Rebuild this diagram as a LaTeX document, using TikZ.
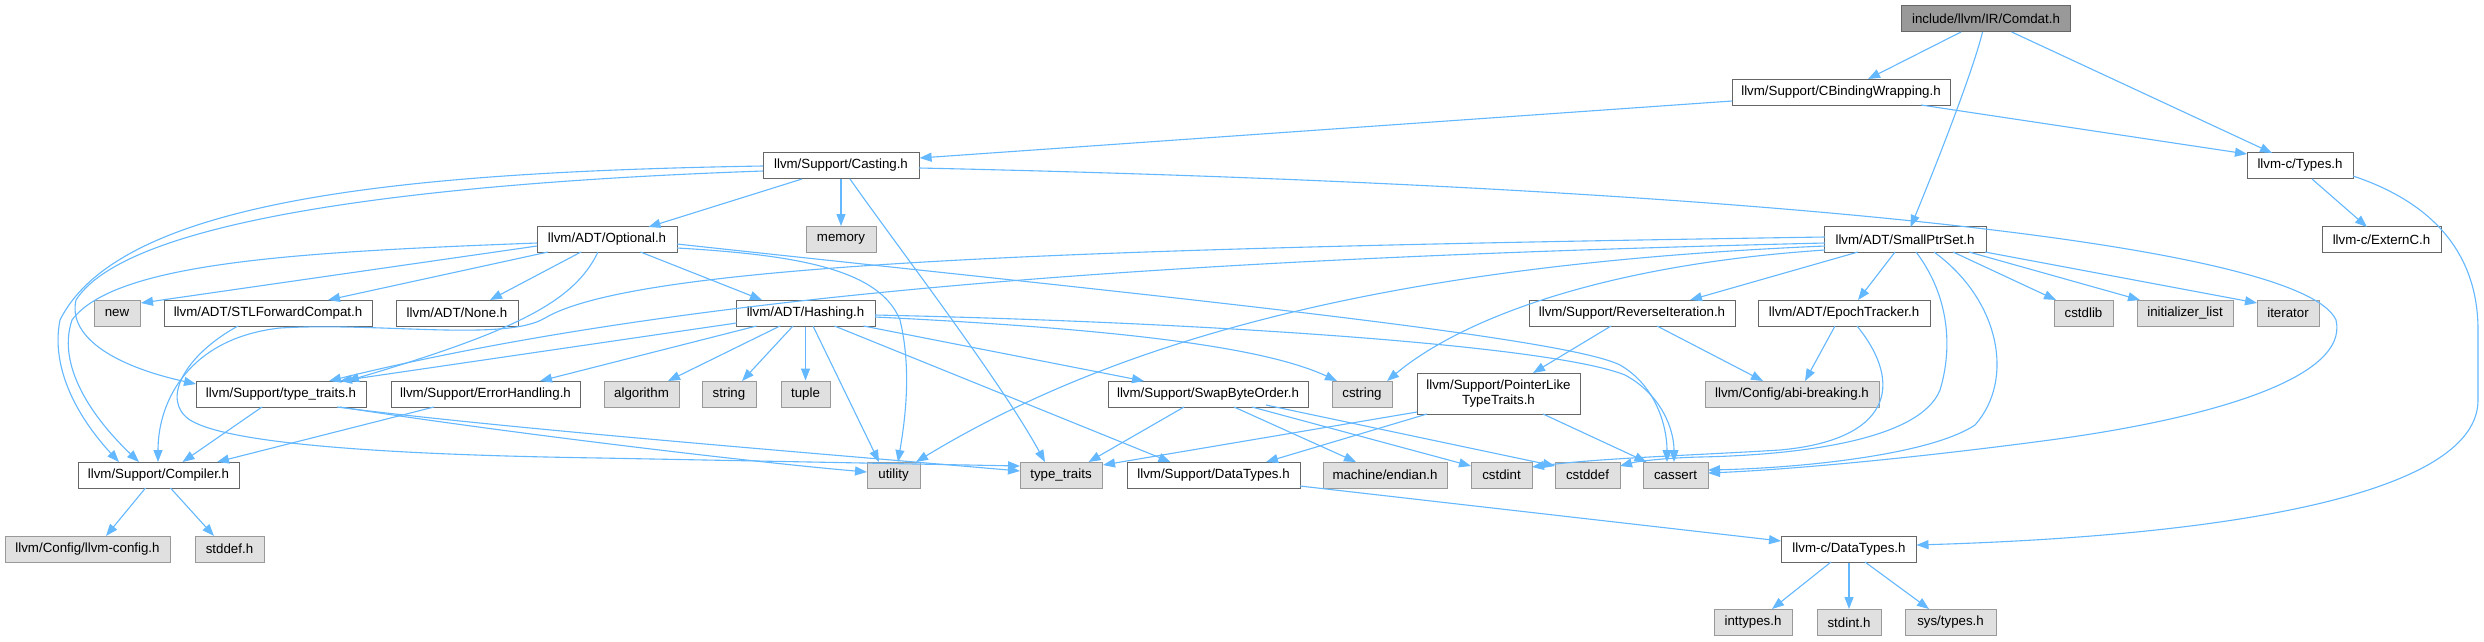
\documentclass[tikz,border=0pt]{standalone}
\usepackage{fontspec}
\setmainfont{Liberation Sans}
\usetikzlibrary{arrows.meta,calc}
\definecolor{edgec}{HTML}{63B8FF}
\definecolor{bordc}{HTML}{666666}
\definecolor{gbord}{HTML}{999999}
\definecolor{gfill}{HTML}{E0E0E0}
\definecolor{rootfill}{HTML}{999999}
\begin{document}
\begin{tikzpicture}[x=1pt,y=-1pt,
  font=\fontsize{13.3}{15}\selectfont,
  wbox/.style={draw=bordc, fill=white, line width=1pt, minimum height=26pt, inner xsep=3pt, inner ysep=2pt, anchor=center},
  gbox/.style={wbox, draw=gbord, fill=gfill},
  rbox/.style={wbox, fill=rootfill},
  edge/.style={draw=edgec, line width=1.1pt, -{Triangle[length=12pt,width=9pt]}, fill=none}
]
\fill[white] (0,0) rectangle (2484,641);
\useasboundingbox (0,0) rectangle (2484,641);

% nodes
\node[rbox, minimum width=169pt] (comdat) at (1986,18.5) {include/llvm/IR/Comdat.h};
\node[wbox, minimum width=218pt] (cbw) at (1841,92) {llvm/Support/CBindingWrapping.h};
\node[wbox, minimum width=156pt] (casting) at (841,165.5) {llvm/Support/Casting.h};
\node[wbox, minimum width=106pt] (types) at (2300,165.5) {llvm-c/Types.h};
\node[wbox, minimum width=140pt] (optional) at (607,239.5) {llvm/ADT/Optional.h};
\node[gbox, minimum width=70pt] (memory) at (841,239.5) {memory};
\node[wbox, minimum width=162pt] (smallptr) at (1905,239.5) {llvm/ADT/SmallPtrSet.h};
\node[wbox, minimum width=119pt] (externc) at (2381.5,239.5) {llvm-c/ExternC.h};
\node[gbox, minimum width=46pt] (new) at (117,313) {new};
\node[wbox, minimum width=208pt] (stlf) at (268,313) {llvm/ADT/STLForwardCompat.h};
\node[wbox, minimum width=122pt] (none) at (457,313) {llvm/ADT/None.h};
\node[wbox, minimum width=139pt] (hashing) at (805.5,313) {llvm/ADT/Hashing.h};
\node[wbox, minimum width=206pt] (reverse) at (1632,313) {llvm/Support/ReverseIteration.h};
\node[wbox, minimum width=172pt] (epoch) at (1844,313) {llvm/ADT/EpochTracker.h};
\node[gbox, minimum width=59pt] (cstdlib) at (2083.5,313) {cstdlib};
\node[gbox, minimum width=96pt] (initlist) at (2185,313) {initializer\_list};
\node[gbox, minimum width=62pt] (iterator) at (2288,313) {iterator};
\node[wbox, minimum width=170pt] (ttsup) at (281,394) {llvm/Support/type\_traits.h};
\node[wbox, minimum width=189pt] (errh) at (485.5,394) {llvm/Support/ErrorHandling.h};
\node[gbox, minimum width=75pt] (algorithm) at (641.5,394) {algorithm};
\node[gbox, minimum width=54pt] (string) at (729,394) {string};
\node[gbox, minimum width=49pt] (tuple) at (805.5,394) {tuple};
\node[wbox, minimum width=200pt] (swap) at (1208,394) {llvm/Support/SwapByteOrder.h};
\node[gbox, minimum width=60pt] (cstring) at (1362,394) {cstring};
\node[wbox, minimum width=163pt, minimum height=41pt, align=center] (ptrlike) at (1498.5,393.5) {llvm/Support/PointerLike\\TypeTraits.h};
\node[gbox, minimum width=174pt] (abi) at (1792,394) {llvm/Config/abi-breaking.h};
\node[wbox, minimum width=161pt] (compiler) at (158.5,475) {llvm/Support/Compiler.h};
\node[gbox, minimum width=53pt] (utility) at (893.5,475) {utility};
\node[gbox, minimum width=82pt] (ttstd) at (1061,475) {type\_traits};
\node[wbox, minimum width=173pt] (sdt) at (1213.5,475) {llvm/Support/DataTypes.h};
\node[gbox, minimum width=124pt] (endian) at (1385,475) {machine/endian.h};
\node[gbox, minimum width=61pt] (cstdint) at (1501.5,475) {cstdint};
\node[gbox, minimum width=65pt] (cstddef) at (1587.5,475) {cstddef};
\node[gbox, minimum width=65pt] (cassert) at (1675.5,475) {cassert};
\node[gbox, minimum width=165pt] (llvmconfig) at (87.5,549) {llvm/Config/llvm-config.h};
\node[gbox, minimum width=69pt] (stddef) at (229.5,549) {stddef.h};
\node[wbox, minimum width=135pt] (cdt) at (1849,549) {llvm-c/DataTypes.h};
\node[gbox, minimum width=78pt] (inttypes) at (1753,622.5) {inttypes.h};
\node[gbox, minimum width=64pt] (stdint) at (1849,622.5) {stdint.h};
\node[gbox, minimum width=91pt] (systypes) at (1950.5,622.5) {sys/types.h};

% edges
\draw[edge] ($(comdat)+(-25,13.5)$) -- ($(cbw)+(27,-13)$);
\draw[edge] ($(comdat)+(-3.5,13.5)$) .. controls (1972,75) and (1930,180) .. ($(smallptr)+(5.6,-12.5)$);
\draw[edge] ($(comdat)+(25.7,13.5)$) -- ($(types)+(-28,-12.5)$);
\draw[edge] ($(cbw)+(-109,9)$) -- ($(casting)+(78.6,-7.5)$);
\draw[edge] ($(cbw)+(80,13)$) -- ($(types)+(-53,-11.5)$);
\draw[edge] ($(casting)+(-39,13.5)$) -- ($(optional)+(41.5,-12.5)$);
\draw[edge] (casting.south) -- (memory.north);
\draw[edge] ($(casting)+(9,13.5)$) .. controls (900,250) and (1000,380) .. ($(ttstd)+(-16,-13)$);
\draw[edge] ($(casting)+(-78,0.5)$) .. controls (400,172) and (120,200) .. (60,320) .. controls (50,370) and (80,420) .. ($(compiler)+(-39.5,-13)$);
\draw[edge] ($(casting)+(-78,5.5)$) .. controls (450,182) and (130,215) .. (76,300) .. controls (68,335) and (110,365) .. ($(ttsup)+(-85,-10)$);
\draw[edge] ($(casting)+(78,2.5)$) .. controls (1700,185) and (2300,240) .. (2336,320) .. controls (2350,380) and (2200,420) .. (2050,440) .. controls (1900,460) and (1780,470) .. ($(cassert)+(32.5,-2)$);
\draw[edge] ($(types)+(12,13.5)$) -- ($(externc)+(-14.5,-12.5)$);
\draw[edge] ($(types)+(53,10.5)$) .. controls (2440,205) and (2478,260) .. (2478,330) -- (2478,400) .. controls (2478,490) and (2250,535) .. ($(cdt)+(67.5,-4)$);
\draw[edge] ($(optional)+(-70,6.5)$) -- ($(new)+(24,-10)$);
\draw[edge] ($(optional)+(-59,12.5)$) -- ($(stlf)+(60,-13)$);
\draw[edge] ($(optional)+(-26,12.5)$) -- ($(none)+(33,-13)$);
\draw[edge] ($(optional)+(33.5,12.5)$) -- ($(hashing)+(-43.5,-13)$);
\draw[edge] ($(optional)+(-9,12.5)$) .. controls (575,300) and (520,330) .. ($(ttsup)+(66,-13)$);
\draw[edge] ($(optional)+(-70,3.5)$) .. controls (300,252) and (115,262) .. (72,320) .. controls (55,370) and (100,425) .. ($(compiler)+(-19.5,-13)$);
\draw[edge] ($(optional)+(70,4.5)$) .. controls (1100,290) and (1560,335) .. (1620,365) .. controls (1655,385) and (1667,425) .. ($(cassert)+(-8.5,-13)$);
\draw[edge] ($(optional)+(70,8.5)$) .. controls (800,255) and (880,270) .. (900,320) .. controls (912,370) and (905,420) .. ($(utility)+(4.5,-13)$);
\draw[edge] ($(stlf)+(-30,13)$) .. controls (185,355) and (160,400) .. (190,420) .. controls (230,445) and (400,455) .. (600,458) -- ($(ttstd)+(-41,-9)$);
\draw[edge] ($(hashing)+(-69,10)$) -- ($(ttsup)+(59,-13)$);
\draw[edge] ($(hashing)+(-49,13)$) -- ($(errh)+(54.5,-13)$);
\draw[edge] ($(hashing)+(-25.5,13)$) -- ($(algorithm)+(26.5,-13)$);
\draw[edge] ($(hashing)+(-12.5,13)$) -- ($(string)+(13,-13)$);
\draw[edge] (hashing.south) -- (tuple.north);
\draw[edge] ($(hashing)+(7.5,13)$) -- ($(utility)+(-14.5,-13)$);
\draw[edge] ($(hashing)+(58,13)$) -- ($(swap)+(-64,-13)$);
\draw[edge] ($(hashing)+(29,13)$) -- ($(sdt)+(-43,-13)$);
\draw[edge] ($(hashing)+(69.5,4)$) .. controls (1100,328) and (1260,345) .. ($(cstring)+(-25,-13)$);
\draw[edge] ($(hashing)+(69.5,2)$) .. controls (1200,322) and (1550,345) .. (1625,375) .. controls (1662,395) and (1674,430) .. ($(cassert)+(-1.5,-13)$);
\draw[edge] ($(ttsup)+(-19,13)$) -- ($(compiler)+(24,-13)$);
\draw[edge] ($(ttsup)+(56,13)$) .. controls (500,428) and (800,452) .. ($(ttstd)+(-41,-4)$);
\draw[edge] ($(ttsup)+(59,13)$) .. controls (500,432) and (750,462) .. ($(utility)+(-26.5,-3)$);
\draw[edge] ($(errh)+(-51.5,13)$) -- ($(compiler)+(58.5,-13)$);
\draw[edge] ($(compiler)+(-13,13)$) -- ($(llvmconfig)+(18.5,-13)$);
\draw[edge] ($(compiler)+(12,13)$) -- ($(stddef)+(-15.5,-13)$);
\draw[edge] ($(swap)+(-24,13)$) -- ($(ttstd)+(27.5,-13)$);
\draw[edge] ($(swap)+(26,13)$) -- ($(endian)+(-29,-13)$);
\draw[edge] ($(swap)+(44,13)$) -- ($(cstdint)+(-30.5,-9)$);
\draw[edge] ($(swap)+(58,11)$) -- ($(cstddef)+(-32.5,-9)$);
\draw[edge] ($(sdt)+(86.5,11)$) -- ($(cdt)+(-68,-8)$);
\draw[edge] ($(cdt)+(-18,13)$) -- ($(inttypes)+(19,-13.5)$);
\draw[edge] (cdt.south) -- (stdint.north);
\draw[edge] ($(cdt)+(16,13)$) -- ($(systypes)+(-21.5,-13.5)$);
\draw[edge] ($(smallptr)+(-47,12.5)$) -- ($(reverse)+(58,-13)$);
\draw[edge] ($(smallptr)+(-10,12.5)$) -- ($(epoch)+(14,-13)$);
\draw[edge] ($(smallptr)+(29,12.5)$) .. controls (2000,300) and (2015,380) .. (1975,425) .. controls (1930,455) and (1800,468) .. ($(cassert)+(32.5,-5)$);
\draw[edge] ($(smallptr)+(11,12.5)$) .. controls (1945,290) and (1955,340) .. (1940,390) .. controls (1920,440) and (1800,455) .. (1700,457) .. controls (1660,458) and (1635,462) .. ($(cstddef)+(32.5,-9)$);
\draw[edge] ($(smallptr)+(48,12.5)$) -- ($(cstdlib)+(-27.5,-13)$);
\draw[edge] ($(smallptr)+(64,12.5)$) -- ($(initlist)+(-45,-13)$);
\draw[edge] ($(smallptr)+(80,12.5)$) -- ($(iterator)+(-31,-10)$);
\draw[edge] ($(smallptr)+(-80,10.5)$) .. controls (1600,265) and (1460,320) .. ($(cstring)+(25,-13)$);
\draw[edge] ($(smallptr)+(-80,6.5)$) .. controls (1450,262) and (1150,320) .. ($(utility)+(22.5,-13)$);
\draw[edge] ($(smallptr)+(-80,3.5)$) .. controls (1200,258) and (700,290) .. ($(ttsup)+(48,-13)$);
\draw[edge] ($(smallptr)+(-80,-2.5)$) .. controls (1100,248) and (640,262) .. (545,318) .. controls (505,342) and (380,322) .. (280,328) .. controls (190,338) and (158,400) .. ($(compiler)+(-0.5,-13)$);
\draw[edge] ($(reverse)+(25,13)$) -- ($(abi)+(-29,-13)$);
\draw[edge] ($(reverse)+(-21,13)$) -- ($(ptrlike)+(34.5,-20.5)$);
\draw[edge] ($(epoch)+(-9,13)$) -- ($(abi)+(13,-13)$);
\draw[edge] ($(epoch)+(13,13)$) .. controls (1905,385) and (1890,440) .. (1780,450) .. controls (1700,455) and (1600,458) .. ($(cstdint)+(30.5,-8)$);
\draw[edge] ($(ptrlike)+(-71.5,20.5)$) -- ($(sdt)+(52.5,-13)$);
\draw[edge] ($(ptrlike)+(-81.5,18.5)$) -- ($(ttstd)+(42,-10)$);
\draw[edge] ($(ptrlike)+(44.5,20.5)$) -- ($(cassert)+(-29,-13)$);
\end{tikzpicture}
\end{document}
